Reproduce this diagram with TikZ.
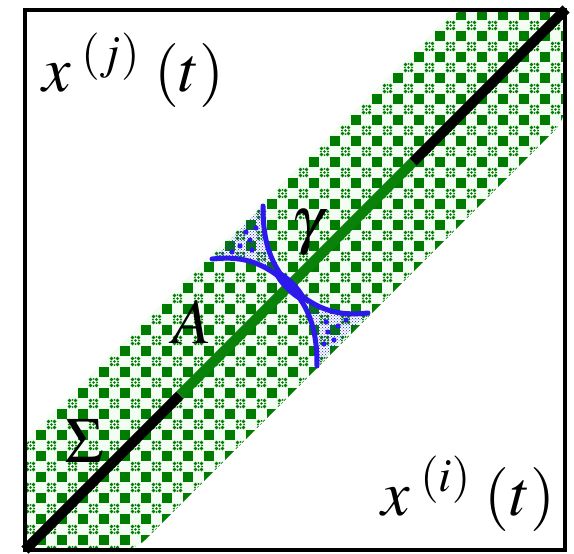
\documentclass[tikz,border=0pt]{standalone}
\usepackage{mathptmx}
\usetikzlibrary{patterns}
\definecolor{dkgreen}{RGB}{0,125,0}
\definecolor{segreen}{RGB}{10,130,10}
\definecolor{lblue}{RGB}{45,25,235}
\definecolor{mint}{RGB}{244,253,244}
\tikzset{
  lbl/.style={inner sep=0pt, font=\fontsize{64}{66}\selectfont},
  frame/.style={draw=black, line width=3.5pt},
  diag/.style={line width=10pt, line cap=butt},
  arm/.style={draw=lblue, line width=5pt, line cap=round},
  speck/.style={pattern=crosshatch dots, pattern color=lblue},
  blob/.style={fill=lblue},
}
\begin{document}
\begin{tikzpicture}[x=1pt,y=-1pt]
\useasboundingbox (0,0) rectangle (574,554);
\fill[white] (0,0) rectangle (574,554);
% band
\begin{scope}
  \clip[rounded corners=14pt] (25,440) -- (455,10) -- (565,10) -- (565,120) -- (135,550) -- (25,550) -- cycle;
  \fill[mint] (25,10) rectangle (565,550);
  \foreach \i in {0,...,26}{
    \foreach \j in {0,...,26}{
      \fill[dkgreen] ({20+21*\i-5},{15+21*\j-5}) rectangle ++(10,10);
      \begin{scope}[shift={({30.5+21*\i},{4.5+21*\j})}]
        \fill[dkgreen] (0,0) circle (1.4);
        \fill[dkgreen] (3,3) circle (1.8);
        \fill[dkgreen] (-3,3) circle (1.8);
        \fill[dkgreen] (3,-3) circle (1.8);
        \fill[dkgreen] (-3,-3) circle (1.8);
        \fill[dkgreen] (0,3.6) circle (1);
        \fill[dkgreen] (0,-3.6) circle (1);
        \fill[dkgreen] (3.6,0) circle (1);
        \fill[dkgreen] (-3.6,0) circle (1);
      \end{scope}
    }
  }
\end{scope}
% frame
\draw[frame] (25,10) rectangle (565,550);
% diagonal
\coordinate (bl) at (25,550);
\coordinate (tr) at (566,9);
\coordinate (g1) at (180,395);
\coordinate (g2) at (413,162);
\draw[diag, black] (bl) -- (g1);
\draw[diag, segreen] (g1) -- (g2);
\draw[diag, black] (g2) -- (tr);
% blue hourglass
\coordinate (c) at (290,286);
\coordinate (lt) at (212,259);
\coordinate (tt) at (263,206);
\coordinate (rt) at (368,313);
\coordinate (bt) at (317,366);
\fill[speck] (c) .. controls (262,260) and (240,256) .. (lt) -- (tt) .. controls (263,232) and (266,260) .. (c) -- cycle;
\fill[speck] (c) .. controls (318,312) and (340,316) .. (rt) -- (bt) .. controls (317,340) and (314,312) .. (c) -- cycle;
\foreach \p in {(240,246),(250,240),(232,252),(256,228),(246,232),(338,326),(328,332),(346,320),(324,344),(334,340),(252,250),(326,322)}
  \fill[lblue] \p circle (2.6);
\draw[arm] (c) .. controls (262,260) and (240,256) .. (lt);
\draw[arm] (c) .. controls (266,260) and (263,232) .. (tt);
\draw[arm] (c) .. controls (318,312) and (340,316) .. (rt);
\draw[arm] (c) .. controls (314,312) and (317,340) .. (bt);
\fill[blob, rotate around={-45:(c)}] (c) ellipse (22 and 6);
% labels
\node[lbl, anchor=base west] (xj) at (42,92) {$x^{\;(j)}\;(t)$};
\node[lbl, anchor=base west] (xi) at (381,515) {$x^{\;(i)}\;(t)$};
\node[lbl, anchor=base] (sig) at (84,462) {$\Sigma$};
\node[lbl, anchor=base] (A) at (192,343) {$A$};
\node[lbl, anchor=base] (gam) at (307,241) {$\gamma$};
\end{tikzpicture}
\end{document}
